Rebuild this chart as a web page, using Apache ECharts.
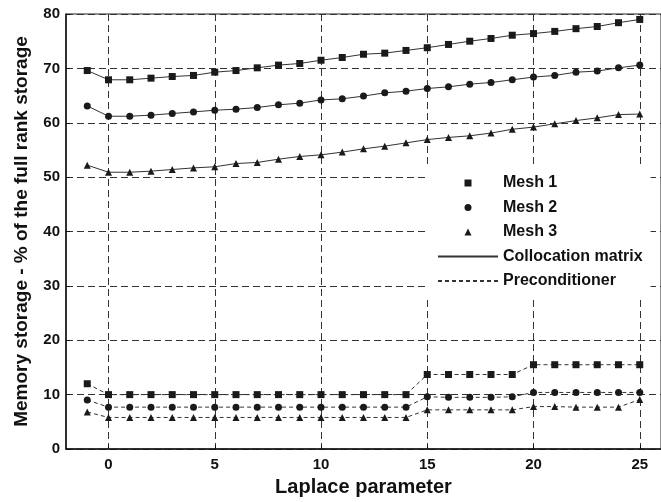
<!DOCTYPE html>
<html>
<head>
<meta charset="utf-8">
<script src="https://cdn.jsdelivr.net/npm/echarts@6/dist/echarts.min.js"></script>
<style>
  html, body { margin: 0; padding: 0; background: #fff; }
  #main { width: 661px; height: 502px; }
</style>
</head>
<body>
<div id="main"></div>
<script>
// laplace parameter values
var laplace = [-1, 0, 1, 2, 3, 4, 5, 6, 7, 8, 9, 10, 11, 12, 13, 14, 15, 16, 17, 18, 19, 20, 21, 22, 23, 24, 25];
var xTicks = [0, 5, 10, 15, 20, 25];

// collocation matrix (solid)
var mesh1Coll = [69.6, 67.9, 67.9, 68.2, 68.5, 68.7, 69.3, 69.6, 70.1, 70.6, 70.9, 71.5, 72.0, 72.6, 72.8, 73.3, 73.8, 74.4, 75.0, 75.5, 76.1, 76.4, 76.8, 77.3, 77.7, 78.4, 79.0];
var mesh2Coll = [63.1, 61.2, 61.2, 61.4, 61.7, 62.0, 62.3, 62.5, 62.8, 63.3, 63.6, 64.2, 64.4, 64.9, 65.5, 65.8, 66.3, 66.6, 67.1, 67.4, 67.9, 68.4, 68.7, 69.3, 69.5, 70.1, 70.6];
var mesh3Coll = [52.2, 50.9, 50.9, 51.1, 51.4, 51.7, 51.9, 52.5, 52.7, 53.3, 53.8, 54.1, 54.6, 55.2, 55.7, 56.3, 56.9, 57.3, 57.6, 58.1, 58.8, 59.2, 59.8, 60.4, 60.9, 61.5, 61.6];

// preconditioner (dashed)
var mesh1Prec = [12.0, 10.0, 10.0, 10.0, 10.0, 10.0, 10.0, 10.0, 10.0, 10.0, 10.0, 10.0, 10.0, 10.0, 10.0, 10.0, 13.7, 13.7, 13.7, 13.7, 13.7, 15.5, 15.5, 15.5, 15.5, 15.5, 15.5];
var mesh2Prec = [9.0, 7.7, 7.7, 7.7, 7.7, 7.7, 7.7, 7.7, 7.7, 7.7, 7.7, 7.7, 7.7, 7.7, 7.7, 7.7, 9.6, 9.5, 9.5, 9.5, 9.6, 10.4, 10.4, 10.4, 10.4, 10.4, 10.4];
var mesh3Prec = [6.8, 5.8, 5.8, 5.8, 5.8, 5.8, 5.8, 5.8, 5.8, 5.8, 5.8, 5.8, 5.8, 5.8, 5.8, 5.8, 7.2, 7.2, 7.2, 7.2, 7.2, 7.8, 7.8, 7.7, 7.7, 7.7, 9.1];

var ink = '#1a1a1a';
var font = 'Liberation Sans';

// legend marker shapes as paths so they keep their aspect in a wide legend slot
var squareIcon = 'path://M0,0H1V1H0Z';
var circleIcon = 'path://M1,0.5A0.5,0.5,0,1,1,0,0.5A0.5,0.5,0,1,1,1,0.5Z';
var triangleIcon = 'path://M0.5,0L1,1H0Z';

function pairs(arr) {
  return laplace.map(function (x, i) { return [x, arr[i]]; });
}

function meshSeries(name, arr, sym, dashed) {
  return {
    name: name,
    type: 'line',
    data: pairs(arr),
    symbol: sym,
    symbolSize: 7,
    itemStyle: { color: ink },
    lineStyle: { color: '#333', width: 1, type: dashed ? [4, 3] : 'solid' },
    emphasis: { disabled: true },
    z: 3
  };
}

var chart = echarts.init(document.getElementById('main'));

var option = {
  backgroundColor: '#fff',
  animation: false,
  grid: {
    left: 66, top: 14, right: -7, bottom: 53,
    show: true, borderColor: '#222', borderWidth: 1
  },
  legend: {
    orient: 'vertical',
    left: 425, top: 165,
    padding: [10, 8, 10, 12],
    backgroundColor: '#fff',
    itemWidth: 60, itemHeight: 7, itemGap: 8.5,
    symbolKeepAspect: true,
    textStyle: { fontFamily: font, fontWeight: 'bold', fontSize: 16, color: '#111' },
    data: [
      { name: 'Mesh 1', icon: squareIcon },
      { name: 'Mesh 2', icon: circleIcon },
      { name: 'Mesh 3', icon: triangleIcon },
      { name: 'Collocation matrix', itemStyle: { opacity: 0 } },
      { name: 'Preconditioner', itemStyle: { opacity: 0 } }
    ]
  },
  xAxis: {
    type: 'value',
    min: -2, max: 26,
    name: 'Laplace parameter',
    nameLocation: 'middle',
    nameGap: 28,
    nameTextStyle: { fontFamily: font, fontWeight: 'bold', fontSize: 20, color: '#111' },
    axisLine: { onZero: false, lineStyle: { color: '#111', width: 1.5 } },
    axisTick: { show: true, inside: true, length: 4, customValues: xTicks, lineStyle: { color: '#111' } },
    axisLabel: { customValues: xTicks, margin: 8, fontFamily: font, fontWeight: 'bold', fontSize: 15, color: '#111' },
    splitLine: { show: true, lineStyle: { color: '#333', type: [7, 4], width: 1 } }
  },
  yAxis: {
    type: 'value',
    min: 0, max: 80, interval: 10,
    name: 'Memory storage - % of the full rank storage',
    nameLocation: 'middle',
    nameGap: 35,
    nameTextStyle: { fontFamily: font, fontWeight: 'bold', fontSize: 19, color: '#111' },
    axisLine: { onZero: false, lineStyle: { color: '#111', width: 1.5 } },
    axisTick: { show: true, inside: true, length: 4, lineStyle: { color: '#111' } },
    axisLabel: { margin: 6, fontFamily: font, fontWeight: 'bold', fontSize: 15, color: '#111' },
    splitLine: { show: true, lineStyle: { color: '#333', type: [7, 4], width: 1 } }
  },
  series: [
    meshSeries('Mesh 1', mesh1Coll, 'rect', false),
    meshSeries('Mesh 2', mesh2Coll, 'circle', false),
    meshSeries('Mesh 3', mesh3Coll, 'triangle', false),
    meshSeries('Mesh 1 P', mesh1Prec, 'rect', true),
    meshSeries('Mesh 2 P', mesh2Prec, 'circle', true),
    meshSeries('Mesh 3 P', mesh3Prec, 'triangle', true),
    {
      name: 'Collocation matrix', type: 'line', data: [], symbol: 'none',
      itemStyle: { color: ink }, lineStyle: { color: '#333', width: 1 }
    },
    {
      name: 'Preconditioner', type: 'line', data: [], symbol: 'none',
      itemStyle: { color: ink }, lineStyle: { color: '#333', width: 1, type: [4, 3] }
    }
  ]
};

chart.setOption(option);
</script>
</body>
</html>
